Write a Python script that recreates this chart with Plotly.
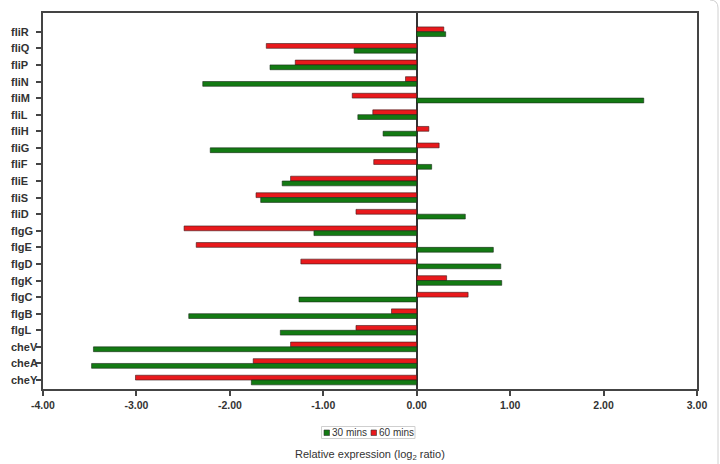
import plotly.graph_objects as go

genes = ["fliR", "fliQ", "fliP", "fliN", "fliM", "fliL", "fliH", "fliG", "fliF", "fliE",
         "fliS", "fliD", "flgG", "flgE", "flgD", "flgK", "flgC", "flgB", "flgL",
         "cheV", "cheA", "cheY"]
mins30 = [0.31, -0.67, -1.57, -2.29, 2.43, -0.63, -0.36, -2.21, 0.16, -1.44,
          -1.67, 0.52, -1.10, 0.82, 0.90, 0.91, -1.26, -2.44, -1.46,
          -3.46, -3.48, -1.77]
mins60 = [0.29, -1.61, -1.30, -0.12, -0.69, -0.47, 0.13, 0.24, -0.46, -1.35,
          -1.72, -0.65, -2.49, -2.36, -1.24, 0.32, 0.55, -0.27, -0.65,
          -1.35, -1.75, -3.01]
x_ticks = [-4, -3, -2, -1, 0, 1, 2, 3]
x_ticktext = ["-4.00", "-3.00", "-2.00", "-1.00", "0.00", "1.00", "2.00", "3.00"]
series_names = ["30 mins", "60 mins"]
series_colors = ["#137a13", "#e8191c"]

W, H = 720, 464
ML, MR, MT, MB = 43, 23, 13, 75
PW, PH = W - ML - MR, H - MT - MB


def px(x):
    return (x - ML) / PW


def py(y):
    return (H - MB - y) / PH


FONT = "Liberation Sans, Arial"

fig = go.Figure()
fig.add_trace(go.Bar(y=genes, x=mins60, orientation="h", name=series_names[1],
                     marker=dict(color=series_colors[1], line=dict(color="#3a1a1a", width=0.6))))
fig.add_trace(go.Bar(y=genes, x=mins30, orientation="h", name=series_names[0],
                     marker=dict(color=series_colors[0], line=dict(color="#1a2a1a", width=0.6))))

for g in genes:
    fig.add_annotation(x=px(9), xref="paper", y=g, yref="y", text="<b>" + g + "</b>",
                       showarrow=False, xanchor="left", yanchor="middle",
                       font=dict(family=FONT, size=11, color="#333333"))

# axis title
fig.add_annotation(x=0.5, xref="paper", y=py(455), yref="paper",
                   text="Relative expression (log<sub>2</sub> ratio)",
                   showarrow=False, xanchor="center", yanchor="middle",
                   font=dict(family=FONT, size=11, color="#333333"))

# legend (box, swatches, labels)
shapes = [dict(type="rect", xref="paper", yref="paper",
               x0=px(321.5), x1=px(415), y0=py(438.5), y1=py(426.5),
               line=dict(color="#cfcfcf", width=1), fillcolor="white")]
sw_x = [324, 371]
tx_x = [330, 377]
for i in range(2):
    shapes.append(dict(type="rect", xref="paper", yref="paper",
                       x0=px(sw_x[i]), x1=px(sw_x[i] + 5.5), y0=py(435.5), y1=py(430),
                       line=dict(color="#333333", width=0.6), fillcolor=series_colors[i]))
    fig.add_annotation(x=px(tx_x[i]), xref="paper", y=py(432.5), yref="paper",
                       text=series_names[i], showarrow=False, xanchor="left", yanchor="middle",
                       font=dict(family=FONT, size=10, color="#333333"))

# light outer frame on the right edge
shapes.append(dict(type="path", xref="paper", yref="paper",
                   path=f"M {px(710)} {py(0)} Q {px(718)} {py(0)} {px(718)} {py(8)} L {px(718)} {py(464)}",
                   line=dict(color="#d0d0d0", width=1)))

fig.update_layout(
    width=W, height=H,
    margin=dict(l=ML, r=MR, t=MT, b=MB),
    paper_bgcolor="white", plot_bgcolor="white",
    barmode="group", bargap=0.42, bargroupgap=0,
    font=dict(family=FONT, color="#333333"),
    showlegend=False,
    shapes=shapes,
    xaxis=dict(range=[-4, 3], tickvals=x_ticks, ticktext=x_ticktext,
               showgrid=False, zeroline=True, zerolinecolor="#333333", zerolinewidth=1.5,
               showline=True, linecolor="#444444", linewidth=2, mirror=True,
               ticks="outside", ticklen=5, tickwidth=1.5, tickcolor="#444444",
               tickfont=dict(size=10.5, color="#333333", weight="bold"), automargin=False),
    yaxis=dict(type="category", categoryorder="array", categoryarray=genes,
               range=[21.54, -1.13], showgrid=False, showticklabels=False,
               showline=True, linecolor="#444444", linewidth=2, mirror=True,
               ticks="outside", ticklen=5, tickwidth=1.5, tickcolor="#444444",
               automargin=False),
)

fig.write_html("out.html")
